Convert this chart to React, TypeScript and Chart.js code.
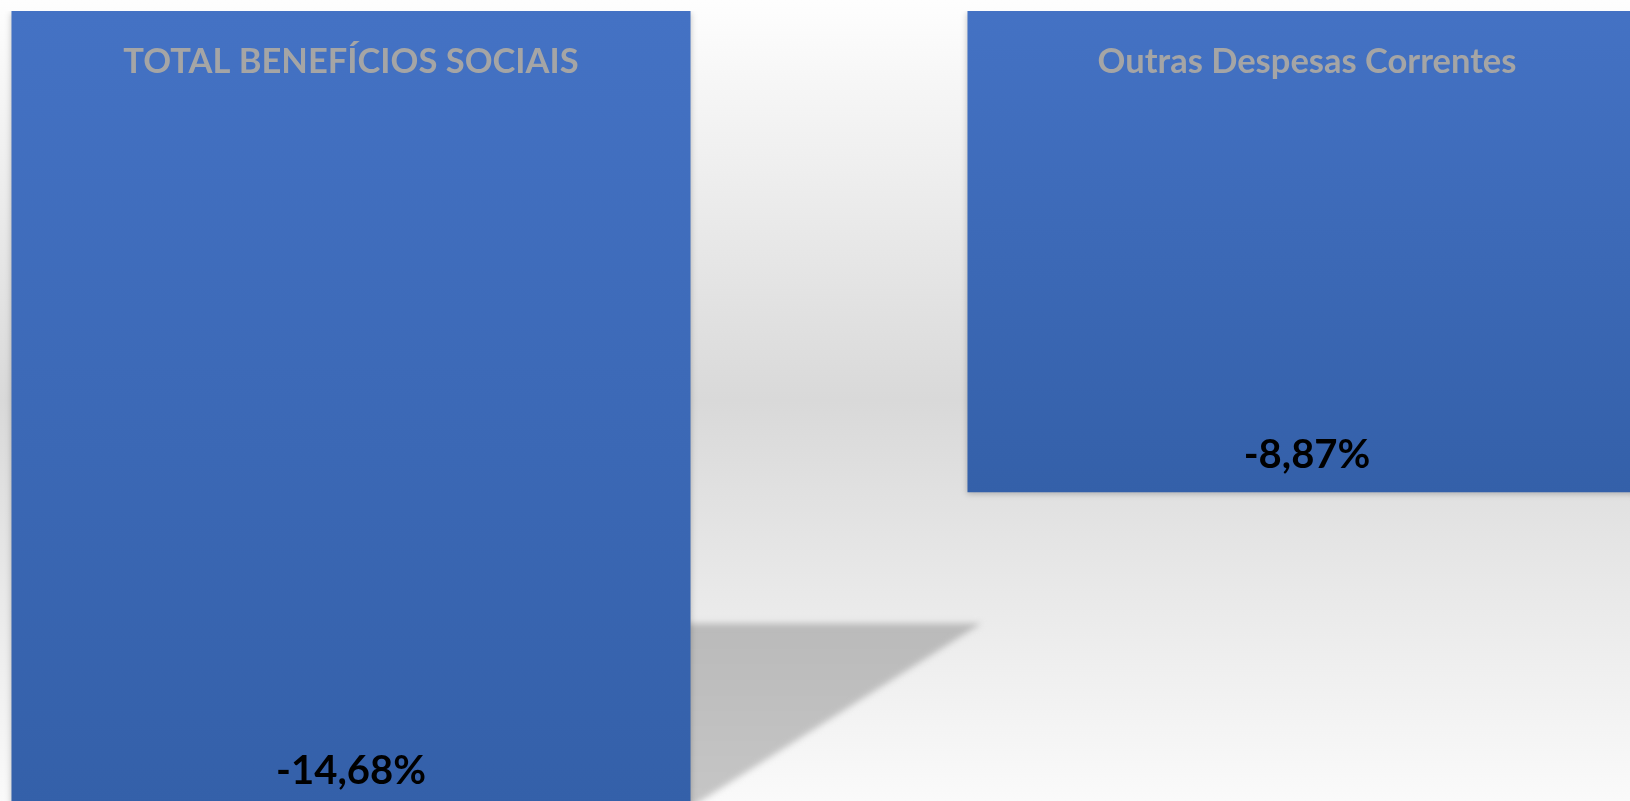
import React, { useEffect, useRef } from "react";
import { Chart, registerables } from "chart.js";

Chart.register(...registerables);

const categories: string[] = ["TOTAL BENEFÍCIOS SOCIAIS", "Outras Despesas Correntes"];
const values: number[] = [-14.68, -8.87];
const axisMin = -15;
const axisMax = 0;

const fmt = (v: number) => v.toFixed(2).replace(".", ",") + "%";

const backgroundPlugin = {
  id: "bgGradient",
  beforeDraw(chart: any) {
    const { ctx, width, height } = chart;
    ctx.save();
    const g = ctx.createLinearGradient(0, 0, 0, 801);
    g.addColorStop(0, "#fefefe");
    g.addColorStop(0.5, "#d9d9d9");
    g.addColorStop(1, "#fafafa");
    ctx.fillStyle = g;
    ctx.fillRect(0, 0, width, height);
    ctx.restore();
  },
};

const shadowPlugin = {
  id: "perspectiveShadow",
  beforeDatasetsDraw(chart: any) {
    const ctx = chart.ctx;
    const meta = chart.getDatasetMeta(0);
    meta.data.forEach((bar: any) => {
      const { x, y, base, width } = bar.getProps(["x", "y", "base", "width"], true);
      const right = x + width / 2;
      const h = y - base;
      const topY = y - 0.231 * h;
      const tipX = right + 0.428 * width;
      ctx.save();
      ctx.filter = "blur(3px)";
      const g = ctx.createLinearGradient(0, topY, 0, y);
      g.addColorStop(0, "#bababa");
      g.addColorStop(1, "#c6c6c6");
      ctx.fillStyle = g;
      ctx.beginPath();
      ctx.moveTo(right - 10, topY);
      ctx.lineTo(tipX, topY);
      ctx.lineTo(right - 10, y + 6);
      ctx.closePath();
      ctx.fill();
      ctx.restore();
    });
  },
  beforeDatasetDraw(chart: any) {
    const ctx = chart.ctx;
    ctx.save();
    ctx.shadowColor = "rgba(0,0,0,0.22)";
    ctx.shadowBlur = 6;
    ctx.shadowOffsetY = 2;
  },
  afterDatasetDraw(chart: any) {
    chart.ctx.restore();
  },
};

const labelPlugin = {
  id: "barLabels",
  afterDatasetsDraw(chart: any) {
    const ctx = chart.ctx;
    const meta = chart.getDatasetMeta(0);
    meta.data.forEach((bar: any, i: number) => {
      const { x, y, base } = bar.getProps(["x", "y", "base"], true);
      ctx.save();
      ctx.textAlign = "center";
      ctx.textBaseline = "alphabetic";
      ctx.fillStyle = "#a5a5a5";
      ctx.font = "bold 34.5px Lato";
      ctx.fillText(categories[i], x, base + 62);
      ctx.fillStyle = "#000000";
      ctx.font = "bold 40px Lato";
      ctx.fillText(fmt(values[i]), x, y - 24);
      ctx.restore();
    });
  },
};

export default function App() {
  const ref = useRef<HTMLCanvasElement | null>(null);
  useEffect(() => {
    if (!ref.current) return;
    const chart = new Chart(ref.current, {
      type: "bar",
      data: {
        labels: categories,
        datasets: [
          {
            data: values,
            backgroundColor: (c: any) => {
              const ch = c.chart;
              const ys = ch.scales && ch.scales.y;
              if (!ys || !ch.chartArea) return "#4472C4";
              const v = values[c.dataIndex] ?? 0;
              const y0 = ys.getPixelForValue(0);
              const y1 = ys.getPixelForValue(v);
              const g = ch.ctx.createLinearGradient(0, y0, 0, y1);
              g.addColorStop(0, "#4472C4");
              g.addColorStop(1, "#3460A9");
              return g;
            },
            borderWidth: 0,
            barPercentage: 1,
            categoryPercentage: 0.7103,
          },
        ],
      },
      options: {
        responsive: true,
        maintainAspectRatio: false,
        animation: false,
        layout: { padding: { top: 11, bottom: 0, left: 0, right: 0 } },
        plugins: { legend: { display: false }, tooltip: { enabled: false } },
        scales: {
          x: { display: false, offset: true, grid: { display: false } },
          y: { display: false, min: axisMin, max: axisMax, grid: { display: false } },
        },
      },
      plugins: [backgroundPlugin, shadowPlugin, labelPlugin],
    });
    return () => chart.destroy();
  }, []);
  return (
    <div style={{ position: "fixed", left: 0, top: 0, width: 1630, height: 801, overflow: "hidden" }}>
      <div style={{ position: "absolute", left: -127, top: 0, width: 1912, height: 825 }}>
        <canvas ref={ref} />
      </div>
    </div>
  );
}
